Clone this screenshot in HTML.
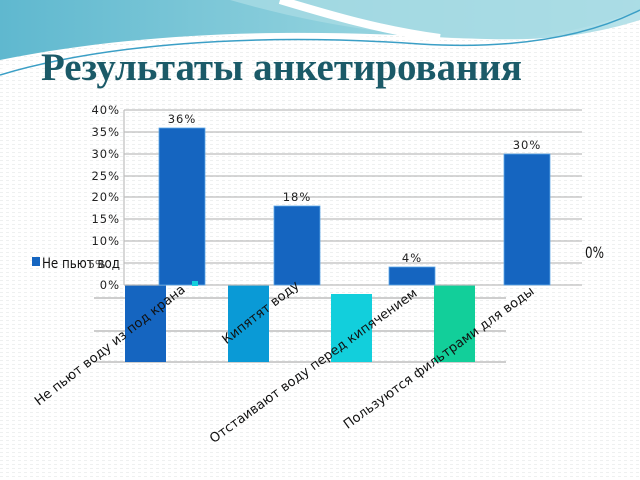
<!DOCTYPE html>
<html><head><meta charset="utf-8"><style>
html,body{margin:0;padding:0;width:640px;height:480px;overflow:hidden;background:#fff}
</style></head><body>
<svg width="640" height="480" xmlns="http://www.w3.org/2000/svg" font-family="'DejaVu Sans','Liberation Sans',sans-serif">
<defs>
<linearGradient id="g1" x1="0" y1="0" x2="1" y2="0">
<stop offset="0" stop-color="#5fb8cf"/><stop offset="0.5" stop-color="#8ccfdc"/><stop offset="1" stop-color="#b9e3ea"/>
</linearGradient>
<pattern id="dots" width="6" height="4" patternUnits="userSpaceOnUse"><rect width="6" height="4" fill="#fff"/><rect x="0" y="0" width="3" height="1" fill="#eef0f0"/></pattern>
</defs>
<rect width="640" height="480" fill="url(#dots)"/>
<path d="M0 0 H640 V20 C560 45 500 40 420 36 C300 30 150 30 0 60 Z" fill="url(#g1)"/>
<path d="M230 0 C300 20 360 30 420 36 C500 42 560 40 640 10 V0 Z" fill="#a8dbe4" opacity="0.8"/>
<path d="M280 0 C330 15 380 30 440 38" stroke="#fff" stroke-width="8" fill="none"/>
<path d="M0 75 C100 45 250 32 420 44 C520 50 590 35 640 10" stroke="#3b9fc6" stroke-width="1.5" fill="none"/>
<path d="M0 70 C120 40 260 30 420 40" stroke="#ffffff" stroke-width="2" fill="none"/>
<text x="41" y="80" font-family="'Liberation Serif',serif" font-weight="bold" font-size="39" fill="#1b5a68" textLength="481" lengthAdjust="spacingAndGlyphs">Результаты анкетирования</text>

<!-- lower chart -->
<g stroke="#bdbdbd" stroke-width="1.5">
<line x1="94" y1="298" x2="506" y2="298"/><line x1="94" y1="331" x2="506" y2="331"/><line x1="94" y1="362" x2="506" y2="362"/>
</g>
<rect x="125" y="285" width="41" height="77" fill="#1565c0"/>
<rect x="228" y="285" width="41" height="77" fill="#0a9ad6"/>
<rect x="331" y="294" width="41" height="68" fill="#12cfdc"/>
<rect x="434" y="285" width="41" height="77" fill="#12cf9a"/>

<!-- upper chart -->
<g stroke="#bdbdbd" stroke-width="1.2">
<line x1="124" y1="110" x2="582" y2="110"/><line x1="124" y1="132" x2="582" y2="132"/>
<line x1="124" y1="154" x2="582" y2="154"/><line x1="124" y1="176" x2="582" y2="176"/>
<line x1="124" y1="197" x2="582" y2="197"/><line x1="124" y1="219" x2="582" y2="219"/>
<line x1="124" y1="241" x2="582" y2="241"/><line x1="124" y1="263" x2="582" y2="263"/>
<line x1="124" y1="285" x2="582" y2="285"/><line x1="124" y1="110" x2="124" y2="285"/>
</g>
<g font-size="11.5" fill="#222" text-anchor="end" letter-spacing="1">
<text x="120" y="114">40%</text><text x="120" y="136">35%</text><text x="120" y="158">30%</text>
<text x="120" y="180">25%</text><text x="120" y="201">20%</text><text x="120" y="223">15%</text>
<text x="120" y="245">10%</text><text x="120" y="289">0%</text>
</g>
<g fill="#1565c0" stroke="#5fa8e8" stroke-width="0.8">
<rect x="159" y="128" width="46" height="157"/>
<rect x="274" y="206" width="46" height="79"/>
<rect x="389" y="267" width="46" height="18"/>
<rect x="504" y="154" width="46" height="131"/>
</g>
<g font-size="11.5" fill="#222" text-anchor="middle" letter-spacing="1">
<text x="182" y="123">36%</text><text x="297" y="201">18%</text><text x="412" y="262">4%</text><text x="527" y="149">30%</text>
</g>
<rect x="32" y="257" width="8" height="9" fill="#1565c0"/>
<text x="42" y="268" font-size="14" fill="#111" textLength="78" lengthAdjust="spacingAndGlyphs">Не пьют вод</text>
<text x="88" y="268" font-size="11" fill="#444">5%</text>
<text x="585" y="258" font-size="16" fill="#111" textLength="19" lengthAdjust="spacingAndGlyphs">0%</text>
<rect x="192" y="281" width="6" height="5" fill="#12cfdc"/>

<g font-size="13" fill="#111" text-anchor="end">
<text transform="translate(186,291) rotate(-38)">Не пьют воду из под крана</text>
<text transform="translate(300,287) rotate(-38)">Кипятят воду</text>
<text transform="translate(418,295) rotate(-36)">Отстаивают воду перед кипячением</text>
<text transform="translate(535,293) rotate(-36)">Пользуются фильтрами для воды</text>
</g>
</svg>
</body></html>
